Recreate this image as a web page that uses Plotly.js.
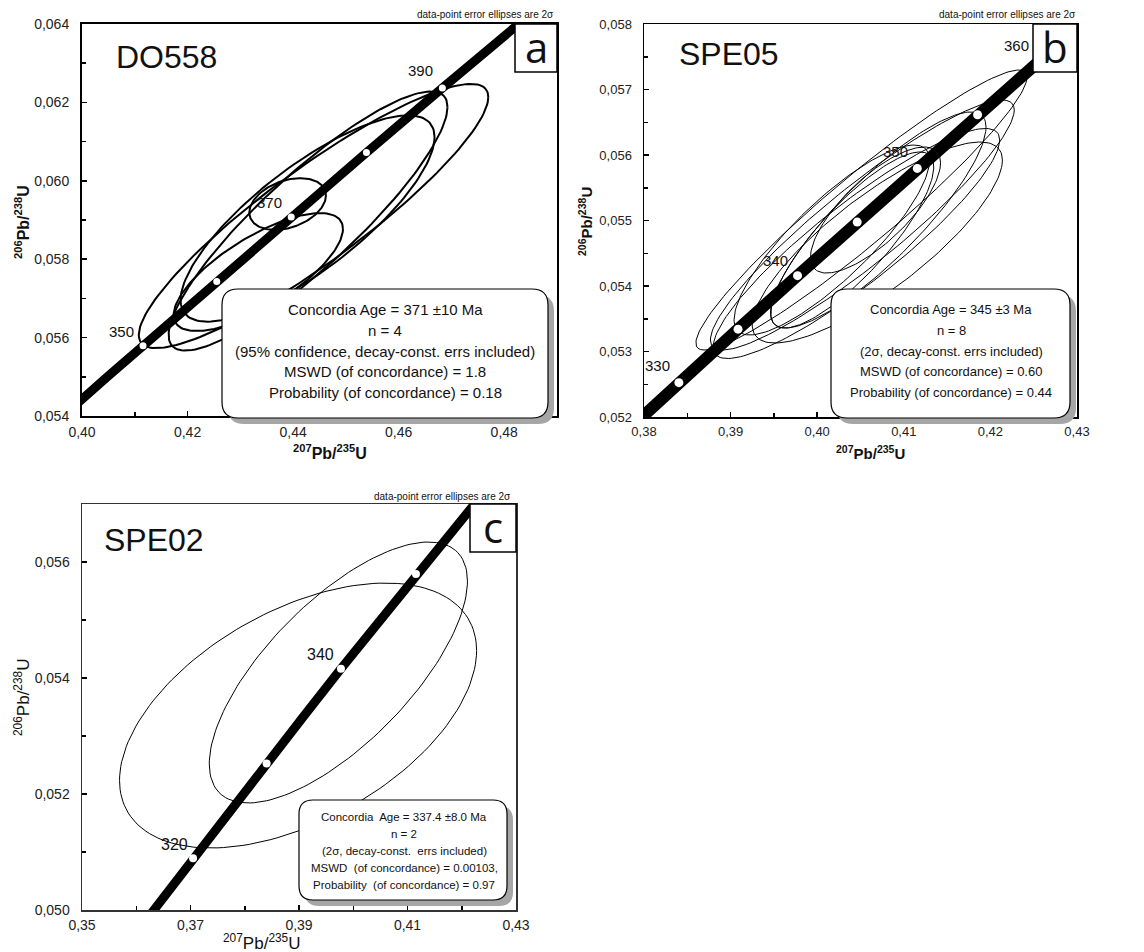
<!DOCTYPE html>
<html><head><meta charset="utf-8">
<script src="https://cdn.plot.ly/plotly-3.0.1.min.js"></script>
<style>html,body{margin:0;padding:0;background:#fff}#chart{width:1144px;height:952px}</style>
</head><body><div id="chart"></div>
<script>
// ---- Concordia curve: ages (Ma) and ratios ----
const concordiaAge = [300,310,320,330,335,340,345,350,355,360,370,380,390,400,410];
const concordiaX = [0.34374,0.35704,0.37047,0.38403,0.39086,0.39773,0.40462,0.41156,0.41852,0.42553,0.43964,0.45389,0.46828,0.48281,0.49749];
const concordiaY = [0.047637,0.049264,0.050893,0.052524,0.053341,0.054158,0.054976,0.055795,0.056614,0.057434,0.059075,0.060720,0.062366,0.064015,0.065668];

// age tick dots on the concordia for each panel
const dotAgesA = [350,360,370,380,390];
const dotAgesB = [330,335,340,345,350,355,360];
const dotAgesC = [320,330,340,350];

// labelled ages
const labelAgesA = ["350","370","390"];
const labelAgesB = ["330","340","350","360"];
const labelAgesC = ["320","340"];

// ---- Error ellipses (2 sigma): centre, half-widths, correlation ----
// Panel a: DO558
const ellA_cx  = [0.44387, 0.44283, 0.44274, 0.43896, 0.43340];
const ellA_cy  = [0.059102, 0.058974, 0.059038, 0.059408, 0.057673];
const ellA_sx  = [0.03311, 0.02642, 0.02406, 0.00726, 0.01604];
const ellA_sy  = [0.00337, 0.003305, 0.002632, 0.00066, 0.001505];
const ellA_rho = [0.90, 0.88, 0.79, 0.33, 0.73];
// Panel b: SPE05
const ellB_cx  = [0.40511, 0.406943, 0.405210, 0.404055, 0.406733, 0.404527, 0.407048, 0.401691];
const ellB_cy  = [0.055160, 0.054664, 0.054931, 0.054702, 0.055160, 0.054649, 0.055008, 0.054702];
const ellB_sx  = [0.019118, 0.014443, 0.017542, 0.009401, 0.007511, 0.016544, 0.012447, 0.011292];
const ellB_sy  = [0.002137, 0.001534, 0.001908, 0.001344, 0.000962, 0.001756, 0.001649, 0.001450];
const ellB_rho = [0.95, 0.82, 0.92, 0.83, 0.75, 0.90, 0.86, 0.84];
// Panel c: SPE02
const ellC_cx  = [0.397255, 0.38983];
const ellC_cy  = [0.054095, 0.053353];
const ellC_sx  = [0.023795, 0.03291];
const ellC_sy  = [0.00225, 0.002284];
const ellC_rho = [0.70, 0.49];

// ---- Text ----
const sampleNames = ["DO558","SPE05","SPE02"];
const panelLetters = ["a","b","c"];
const infoA = ["Concordia Age = 371 ±10 Ma","n = 4","(95% confidence, decay-const. errs included)","MSWD (of concordance) = 1.8","Probability (of concordance) = 0.18"];
const infoB = ["Concordia Age = 345 ±3 Ma","n = 8","(2σ, decay-const. errs included)","MSWD (of concordance) = 0.60","Probability (of concordance) = 0.44"];
const infoC = ["Concordia  Age = 337.4 ±8.0 Ma","n = 2","(2σ, decay-const.  errs included)","MSWD  (of concordance) = 0.00103,","Probability  (of concordance) = 0.97"];
const noteText = "data-point error ellipses are 2σ";

// ---------------------------------------------------------------
const W = 1144, H = 952;
const FONT = "Liberation Sans, Arial, sans-serif";
const fx = p => p / W, fy = p => 1 - p / H;

function ellipsePts(cx, cy, sx, sy, rho) {
  const xs = [], ys = [], n = 160, q = Math.sqrt(1 - rho * rho);
  for (let i = 0; i <= n; i++) {
    const t = 2 * Math.PI * i / n;
    xs.push(cx + sx * Math.cos(t));
    ys.push(cy + sy * (rho * Math.cos(t) + q * Math.sin(t)));
  }
  return [xs, ys];
}
const traces = [];
function addEllipses(cx, cy, sx, sy, rho, xa, ya, w) {
  for (let i = 0; i < cx.length; i++) {
    const [xs, ys] = ellipsePts(cx[i], cy[i], sx[i], sy[i], rho[i]);
    traces.push({type:'scatter', mode:'lines', x:xs, y:ys, xaxis:xa, yaxis:ya,
      line:{color:'#000', width:w}, hoverinfo:'skip', showlegend:false});
  }
}
function addConcordia(xa, ya, w, dotAges, dotSize) {
  traces.push({type:'scatter', mode:'lines', x:concordiaX, y:concordiaY, xaxis:xa, yaxis:ya,
    line:{color:'#000', width:w}, hoverinfo:'skip', showlegend:false});
  const dx = [], dy = [];
  dotAges.forEach(a => { const k = concordiaAge.indexOf(a); dx.push(concordiaX[k]); dy.push(concordiaY[k]); });
  traces.push({type:'scatter', mode:'markers', x:dx, y:dy, xaxis:xa, yaxis:ya,
    marker:{color:'#fff', size:dotSize, line:{width:0}}, hoverinfo:'skip', showlegend:false});
}
addEllipses(ellA_cx, ellA_cy, ellA_sx, ellA_sy, ellA_rho, 'x', 'y', 2);
addConcordia('x', 'y', 9, dotAgesA, 7);
addEllipses(ellB_cx, ellB_cy, ellB_sx, ellB_sy, ellB_rho, 'x2', 'y2', 1);
addConcordia('x2', 'y2', 12, dotAgesB, 9);
addEllipses(ellC_cx, ellC_cy, ellC_sx, ellC_sy, ellC_rho, 'x3', 'y3', 1);
addConcordia('x3', 'y3', 9, dotAgesC, 8);

function axis(dom, range, dtick, minor, fmt, anchor, lw, fs, stand, lc) {
  return {domain:dom, range:range, dtick:dtick, tick0:range[0], tickformat:fmt, anchor:anchor,
    showline:true, linecolor:lc || '#000', linewidth:lw, mirror:true, showgrid:false, zeroline:false,
    ticks:'inside', ticklen:5, tickwidth:1.5, tickcolor:'#000', ticklabelstandoff:stand,
    tickfont:{family:FONT, size:fs, color:'#222'},
    minor:{dtick:minor, tick0:range[0], ticks:'inside', ticklen:4, tickwidth:1.5, tickcolor:'#000', showgrid:false},
    fixedrange:true};
}

const layout = {
  width:W, height:H, margin:{l:0, r:0, t:0, b:0}, paper_bgcolor:'#fff', plot_bgcolor:'#fff',
  separators:',.', showlegend:false, font:{family:FONT, color:'#111'},
  xaxis:  axis([fx(82), fx(557)], [0.40, 0.49], 0.02, 0.01, '.2f', 'y', 2, 14, 2),
  yaxis:  axis([fy(416), fy(24)], [0.054, 0.064], 0.002, 0.001, '.3f', 'x', 2, 14, 8),
  xaxis2: axis([fx(644), fx(1077)], [0.38, 0.43], 0.01, 0.005, '.2f', 'y2', 1.5, 13, 2),
  yaxis2: axis([fy(417), fy(24)], [0.052, 0.058], 0.001, 0.0005, '.3f', 'x2', 1.5, 13, 8),
  xaxis3: axis([fx(82), fx(516)], [0.35, 0.43], 0.02, 0.01, '.2f', 'y3', 1.5, 14, 2, '#333'),
  yaxis3: axis([fy(910), fy(504)], [0.050, 0.057], 0.002, 0.001, '.3f', 'x3', 1.5, 14, 8, '#333'),
  shapes: [], annotations: []
};

function roundRectPath(x0, y0, x1, y1, r) {
  const P = (x, y) => fx(x) + ',' + fy(y);
  return 'M' + P(x0 + r, y0) + ' L' + P(x1 - r, y0) + ' Q' + P(x1, y0) + ' ' + P(x1, y0 + r) +
    ' L' + P(x1, y1 - r) + ' Q' + P(x1, y1) + ' ' + P(x1 - r, y1) +
    ' L' + P(x0 + r, y1) + ' Q' + P(x0, y1) + ' ' + P(x0, y1 - r) +
    ' L' + P(x0, y0 + r) + ' Q' + P(x0, y0) + ' ' + P(x0 + r, y0) + ' Z';
}
function infoBox(x0, y0, x1, y1, r, lines, cxp, rows, fsize) {
  layout.shapes.push({type:'path', xref:'paper', yref:'paper', layer:'above',
    path: roundRectPath(x0 + 6, y0 + 6, x1 + 6, y1 + 6, r), fillcolor:'#a6a6a6', line:{width:0}});
  layout.shapes.push({type:'path', xref:'paper', yref:'paper', layer:'above',
    path: roundRectPath(x0, y0, x1, y1, r), fillcolor:'#fff', line:{color:'#000', width:1.2}});
  lines.forEach((t, i) => layout.annotations.push({xref:'paper', yref:'paper', x:fx(cxp), y:fy(rows[i]),
    text:t, showarrow:false, xanchor:'center', yanchor:'middle', font:{family:FONT, size:fsize, color:'#111'}}));
}
function letterBox(x0, y0, x1, y1, letter, fsize) {
  layout.shapes.push({type:'rect', xref:'paper', yref:'paper', layer:'above',
    x0:fx(x0), x1:fx(x1), y0:fy(y1), y1:fy(y0), fillcolor:'#fff', line:{color:'#000', width:1.5}});
  layout.annotations.push({xref:'paper', yref:'paper', x:fx((x0 + x1) / 2), y:fy((y0 + y1) / 2 - 2), text:letter,
    showarrow:false, xanchor:'center', yanchor:'middle', font:{family:'Open Sans, sans-serif', size:fsize, color:'#111'}});
}
function ptext(xp, yp, t, size, anchor, extra) {
  layout.annotations.push(Object.assign({xref:'paper', yref:'paper', x:fx(xp), y:fy(yp), text:t, showarrow:false,
    xanchor:anchor, yanchor:'middle', font:{family:FONT, size:size, color:'#111'}}, extra || {}));
}
function dtext(xa, ya, x, y, t, size) {
  layout.annotations.push({xref:xa, yref:ya, x:x, y:y, text:t, showarrow:false,
    xanchor:'center', yanchor:'middle', font:{family:FONT, size:size, color:'#111'}});
}
const ytitleBold = '<b><sup>206</sup>Pb/<sup>238</sup>U</b>';
const xtitleBold = '<b><sup>207</sup>Pb/<sup>235</sup>U</b>';

// Panel a
infoBox(222, 289, 548, 418, 16, infoA, 385, [310, 330.5, 351, 371.5, 392], 15);
letterBox(515, 24, 557, 72, panelLetters[0], 42);
ptext(114, 57, sampleNames[0], 32, 'left');
ptext(556, 15, noteText, 10, 'right');
dtext('x', 'y', 0.40755, 0.056143, labelAgesA[0], 15);
dtext('x', 'y', 0.43547, 0.059434, labelAgesA[1], 15);
dtext('x', 'y', 0.46415, 0.06282, labelAgesA[2], 15);
ptext(330, 452, xtitleBold, 16, 'center');
ptext(22, 222, ytitleBold, 16, 'center', {textangle:-90});

// Panel b
infoBox(831, 289, 1070, 418, 16, infoB, 951, [310, 330.5, 351, 371.5, 392], 13);
letterBox(1033, 24, 1077, 72, panelLetters[1], 42);
ptext(677, 54, sampleNames[1], 32, 'left');
ptext(1078, 15, noteText, 10, 'right');
dtext('x2', 'y2', 0.38158, 0.052779, labelAgesB[0], 15);
dtext('x2', 'y2', 0.39523, 0.054397, labelAgesB[1], 15);
dtext('x2', 'y2', 0.40899, 0.056061, labelAgesB[2], 15);
dtext('x2', 'y2', 0.42307, 0.057679, labelAgesB[3], 15);
ptext(870, 452, xtitleBold, 15, 'center');
ptext(585, 222, ytitleBold, 15, 'center', {textangle:-90});

// Panel c
infoBox(299, 800, 507, 900, 14, infoC, 404, [817, 834, 851, 868, 885], 11.5);
letterBox(470, 504, 516, 552, panelLetters[2], 42);
ptext(102, 540, sampleNames[2], 32, 'left');
ptext(513, 496, noteText, 10, 'right');
dtext('x3', 'y3', 0.39405, 0.054397, labelAgesC[1], 16);
dtext('x3', 'y3', 0.36705, 0.051121, labelAgesC[0], 16);
ptext(262, 942, '<sup>207</sup>Pb/<sup>235</sup>U', 17, 'center');
ptext(22, 697, '<sup>206</sup>Pb/<sup>238</sup>U', 17, 'center', {textangle:-90});

Plotly.newPlot('chart', traces, layout, {displayModeBar:false, staticPlot:true});
</script>
</body></html>
